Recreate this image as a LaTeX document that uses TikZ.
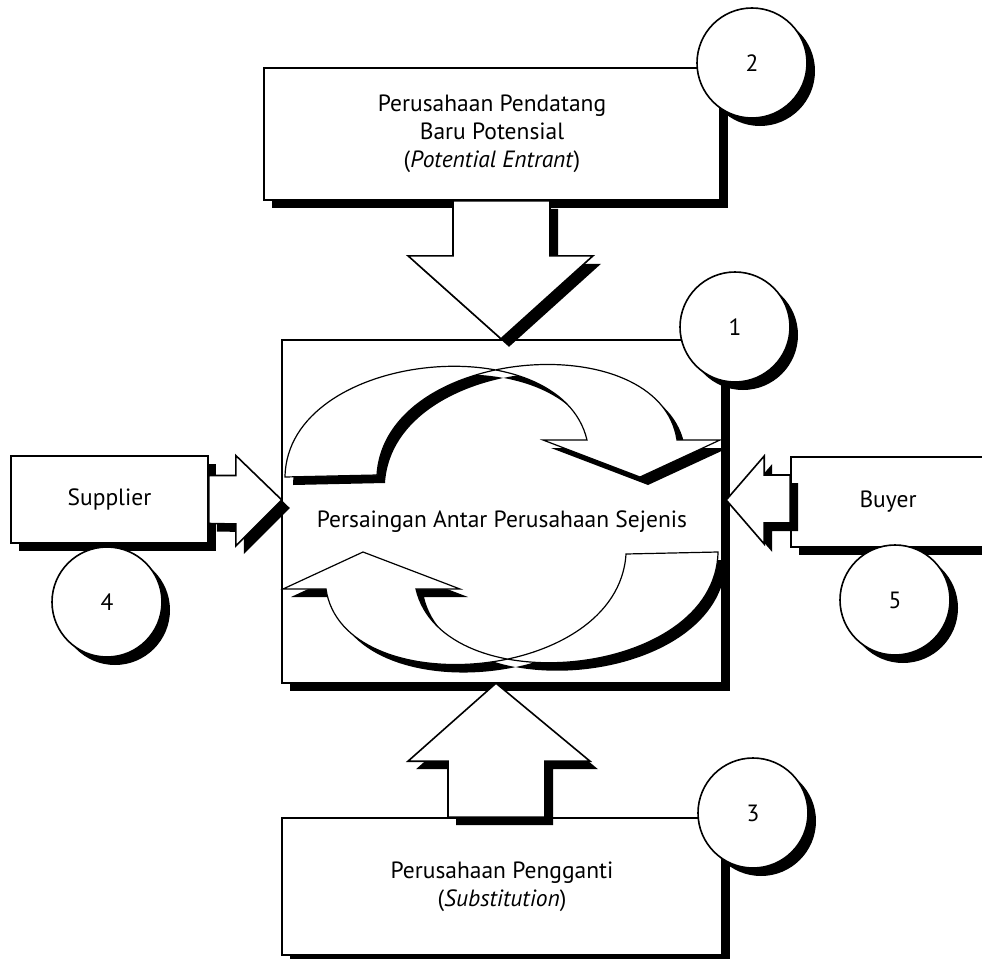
\documentclass[tikz,border=0pt]{standalone}
\usepackage{fontspec}
\setmainfont{PT Sans}
\usetikzlibrary{shadows}

\begin{document}
\begin{tikzpicture}[x=1pt, y=-1pt, font=\fontsize{23.5}{28}\selectfont,
  blackshadow/.style={drop shadow={shadow xshift=8pt, shadow yshift=-8pt, opacity=1, fill=black}},
  framebox/.style={draw, line width=1.6pt, fill=white, blackshadow, inner sep=0pt, align=center},
  numcircle/.style={circle, draw, line width=1.6pt, fill=white, blackshadow, minimum size=110pt, inner sep=0pt},
  blockarrow/.style={draw, line width=1.6pt, fill=white, blackshadow},
  turnarrow/.style={draw, line width=1.2pt, fill=white, blackshadow}]
\useasboundingbox (0,0) rectangle (982,958);
\clip (0,0) rectangle (982,958);

% potential entrant
\node[framebox, minimum width=456pt, minimum height=132pt] (entrant) at (492,134) {Perusahaan Pendatang\\Baru Potensial\\(\textit{Potential Entrant})};
\node[numcircle] (n2) at (752,63) {2};

% rivalry
\node[framebox, minimum width=440pt, minimum height=343pt] (rival) at (502,511.5) {};
\draw[blockarrow] ([xshift=-39pt]entrant.south) -- ++(0,55) -- ++(-45,0) -- ++(93,83) -- ++(92,-83) -- ++(-43,0) -- ++(0,-55) -- cycle;
\draw[turnarrow] (285,477) .. controls (287,350) and (560,325) .. (587,440) -- (543,440) -- (640,477) -- (720,440) -- (677,440) .. controls (660,325) and (385,345) .. (377,475) -- cycle;
\draw[turnarrow] (718,552) .. controls (716,679) and (443,704) .. (416,589) -- (460,589) -- (363,552) -- (283,589) -- (326,589) .. controls (343,704) and (618,684) .. (626,554) -- cycle;
\node (rivtext) at (502,522) {Persaingan Antar Perusahaan Sejenis};
\node[numcircle] (n1) at (735,327) {1};

% supplier
\node[framebox, minimum width=197pt, minimum height=87pt] (sup) at (109.5,499.5) {Supplier};
\draw[blockarrow] ([yshift=24pt]sup.east) -- ++(27,0) -- ++(0,-20) -- ++(46,44.5) -- ++(-46,46) -- ++(0,-22) -- ([yshift=-24pt]sup.east) -- cycle;
\node[numcircle] (n4) at (107,602) {4};

% buyer
\node[framebox, minimum width=194pt, minimum height=90pt] (buy) at (888,502) {Buyer};
\draw[blockarrow] ([yshift=27pt]buy.west) -- ++(-26,0) -- ++(0,-19) -- ++(-38,44) -- ++(38,44) -- ++(0,-21) -- ([yshift=-21pt]buy.west) -- cycle;
\node[numcircle] (n5) at (895,600) {5};

% substitution
\node[framebox, minimum width=440pt, minimum height=137pt] (subst) at (502,886.5) {Perusahaan Pengganti\\(\textit{Substitution})};
\draw[blockarrow] ([xshift=-54pt]subst.north) -- ++(0,-56) -- ++(-40,0) -- ++(88,-78) -- ++(94,78) -- ++(-45,0) -- ++(0,56) -- cycle;
\node[numcircle] (n3) at (753,813) {3};
\end{tikzpicture}
\end{document}
